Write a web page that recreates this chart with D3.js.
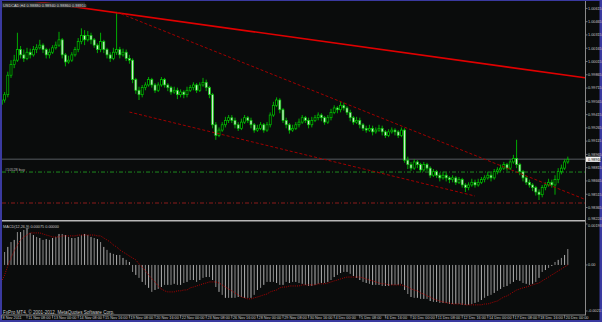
<!DOCTYPE html>
<html><head><meta charset="utf-8">
<script src="https://cdn.jsdelivr.net/npm/d3@7/dist/d3.min.js"></script>
<style>html,body{margin:0;padding:0;background:#0a0c0c;overflow:hidden}</style>
</head><body><svg id="chart" width="602" height="322"></svg>
<script>
const symbol = "USDCAD,H4";
const copyright = "FxPro MT4, \u00A9 2001-2012, MetaQuotes Software Corp.";
const orderLabel = "#10528 buy";
const dateLabels = ["8 Nov 2011","11 Nov 08:00","13 Nov 00:00","14 Nov 08:00","15 Nov 16:00","19 Nov 08:00","20 Nov 16:00","22 Nov 00:00","23 Nov 08:00","26 Nov 16:00","28 Nov 00:00","29 Nov 08:00","30 Nov 16:00","4 Dec 00:00","5 Dec 08:00","6 Dec 16:00","10 Dec 00:00","11 Dec 08:00","12 Dec 16:00","14 Dec 00:00","17 Dec 08:00","18 Dec 16:00","20 Dec 00:00"];
const barsPerLabel = 8;
const priceTicks = [1.00615,1.00465,1.00315,1.00165,1.00015,0.99865,0.99715,0.99565,0.99415,0.99265,0.99115,0.98965,0.98815,0.98665,0.98515,0.98365];
const priceRange = [0.98224, 1.0071];
const macdRange = [-0.00217, 0.00193];

const open = [0.9953,0.9958,0.9964,0.9986,0.9998,1.0003,1.0015,1.0009,1.0005,1.0012,
1.0009,1.0015,1.0017,1.0020,1.0015,1.0009,1.0012,1.0017,1.0020,1.0026,
1.0009,1.0001,1.0003,1.0009,1.0015,1.0024,1.0031,1.0026,1.0031,1.0026,
1.0020,1.0015,1.0024,1.0015,1.0009,1.0005,1.0012,1.0015,1.0009,1.0012,
1.0005,1.0003,0.9981,0.9969,0.9964,0.9972,0.9975,0.9981,0.9975,0.9969,
0.9975,0.9981,0.9975,0.9972,0.9967,0.9969,0.9964,0.9967,0.9964,0.9969,
0.9972,0.9975,0.9969,0.9975,0.9978,0.9972,0.9964,0.9930,0.9918,0.9924,
0.9930,0.9935,0.9938,0.9935,0.9930,0.9926,0.9933,0.9938,0.9935,0.9930,
0.9924,0.9926,0.9930,0.9924,0.9930,0.9941,0.9952,0.9958,0.9947,0.9935,
0.9930,0.9924,0.9926,0.9930,0.9933,0.9938,0.9935,0.9930,0.9935,0.9938,
0.9941,0.9938,0.9933,0.9938,0.9944,0.9949,0.9947,0.9952,0.9949,0.9944,
0.9938,0.9933,0.9935,0.9930,0.9926,0.9924,0.9926,0.9922,0.9924,0.9926,
0.9922,0.9918,0.9922,0.9924,0.9922,0.9918,0.9924,0.9890,0.9885,0.9881,
0.9888,0.9885,0.9879,0.9885,0.9881,0.9873,0.9877,0.9873,0.9870,0.9873,
0.9870,0.9868,0.9870,0.9865,0.9868,0.9862,0.9859,0.9862,0.9865,0.9862,
0.9865,0.9868,0.9870,0.9873,0.9870,0.9877,0.9879,0.9881,0.9885,0.9881,
0.9888,0.9892,0.9885,0.9877,0.9870,0.9865,0.9862,0.9859,0.9854,0.9851,
0.9859,0.9862,0.9865,0.9862,0.9868,0.9877,0.9881,0.9888];
const high = [0.9964,0.9967,0.9990,1.0003,1.0009,1.0034,1.0019,1.0015,1.0017,1.0016,
1.0019,1.0021,1.0026,1.0022,1.0017,1.0016,1.0020,1.0024,1.0035,1.0028,
1.0011,1.0008,1.0012,1.0018,1.0028,1.0039,1.0037,1.0036,1.0034,1.0028,
1.0022,1.0034,1.0026,1.0017,1.0012,1.0017,1.0056,1.0018,1.0016,1.0015,
1.0009,1.0005,0.9983,0.9973,0.9975,0.9978,0.9984,0.9983,0.9977,0.9978,
0.9984,0.9983,0.9977,0.9974,0.9973,0.9972,0.9970,0.9969,0.9973,0.9975,
0.9978,0.9977,0.9978,0.9983,0.9981,0.9974,0.9966,0.9933,0.9927,0.9933,
0.9939,0.9941,0.9941,0.9938,0.9933,0.9937,0.9941,0.9940,0.9938,0.9932,
0.9930,0.9933,0.9932,0.9933,0.9944,0.9956,0.9961,0.9960,0.9949,0.9938,
0.9932,0.9930,0.9933,0.9937,0.9941,0.9940,0.9938,0.9939,0.9941,0.9944,
0.9943,0.9940,0.9941,0.9948,0.9952,0.9951,0.9956,0.9955,0.9951,0.9947,
0.9940,0.9939,0.9938,0.9932,0.9929,0.9930,0.9929,0.9927,0.9930,0.9929,
0.9924,0.9925,0.9927,0.9926,0.9924,0.9927,0.9926,0.9894,0.9888,0.9891,
0.9890,0.9887,0.9888,0.9887,0.9883,0.9880,0.9879,0.9876,0.9877,0.9876,
0.9872,0.9873,0.9872,0.9871,0.9870,0.9864,0.9865,0.9869,0.9868,0.9869,
0.9871,0.9873,0.9877,0.9876,0.9880,0.9882,0.9885,0.9888,0.9887,0.9891,
0.9896,0.9913,0.9887,0.9879,0.9872,0.9868,0.9864,0.9861,0.9857,0.9862,
0.9865,0.9869,0.9868,0.9873,0.9881,0.9885,0.9891,0.9894];
const low = [0.9949,0.9955,0.9961,0.9983,0.9994,1.0001,1.0005,1.0001,1.0003,1.0005,
1.0007,1.0011,1.0015,1.0011,1.0005,1.0005,1.0010,1.0015,1.0018,1.0005,
0.9996,0.9999,1.0001,1.0007,1.0012,1.0021,1.0020,1.0024,1.0021,1.0017,
1.0011,1.0012,1.0011,1.0005,1.0001,1.0003,1.0009,1.0005,1.0007,1.0002,
0.9999,0.9977,0.9965,0.9958,0.9961,0.9969,0.9973,0.9972,0.9966,0.9967,
0.9973,0.9972,0.9968,0.9964,0.9965,0.9959,0.9961,0.9960,0.9961,0.9967,
0.9969,0.9966,0.9967,0.9973,0.9968,0.9960,0.9926,0.9913,0.9916,0.9922,
0.9927,0.9932,0.9932,0.9926,0.9923,0.9924,0.9931,0.9932,0.9926,0.9921,
0.9922,0.9924,0.9921,0.9922,0.9927,0.9939,0.9950,0.9943,0.9932,0.9926,
0.9920,0.9922,0.9924,0.9927,0.9931,0.9932,0.9926,0.9927,0.9933,0.9935,
0.9934,0.9930,0.9931,0.9935,0.9942,0.9943,0.9944,0.9946,0.9941,0.9934,
0.9930,0.9931,0.9926,0.9923,0.9921,0.9922,0.9918,0.9920,0.9922,0.9918,
0.9915,0.9916,0.9920,0.9918,0.9915,0.9916,0.9887,0.9880,0.9878,0.9879,
0.9881,0.9876,0.9877,0.9878,0.9870,0.9871,0.9870,0.9866,0.9868,0.9866,
0.9864,0.9865,0.9862,0.9863,0.9859,0.9854,0.9856,0.9860,0.9859,0.9860,
0.9863,0.9865,0.9868,0.9866,0.9868,0.9874,0.9877,0.9879,0.9878,0.9879,
0.9886,0.9881,0.9873,0.9866,0.9862,0.9859,0.9855,0.9850,0.9845,0.9848,
0.9856,0.9860,0.9859,0.9851,0.9864,0.9874,0.9879,0.9886];
const close = [0.9958,0.9964,0.9986,0.9998,1.0003,1.0015,1.0009,1.0005,1.0012,1.0009,
1.0015,1.0017,1.0020,1.0015,1.0009,1.0012,1.0017,1.0020,1.0026,1.0009,
1.0001,1.0003,1.0009,1.0015,1.0024,1.0031,1.0026,1.0031,1.0026,1.0020,
1.0015,1.0024,1.0015,1.0009,1.0005,1.0012,1.0015,1.0009,1.0012,1.0005,
1.0003,0.9981,0.9969,0.9964,0.9972,0.9975,0.9981,0.9975,0.9969,0.9975,
0.9981,0.9975,0.9972,0.9967,0.9969,0.9964,0.9967,0.9964,0.9969,0.9972,
0.9975,0.9969,0.9975,0.9978,0.9972,0.9964,0.9930,0.9918,0.9924,0.9930,
0.9935,0.9938,0.9935,0.9930,0.9926,0.9933,0.9938,0.9935,0.9930,0.9924,
0.9926,0.9930,0.9924,0.9930,0.9941,0.9952,0.9958,0.9947,0.9935,0.9930,
0.9924,0.9926,0.9930,0.9933,0.9938,0.9935,0.9930,0.9935,0.9938,0.9941,
0.9938,0.9933,0.9938,0.9944,0.9949,0.9947,0.9952,0.9949,0.9944,0.9938,
0.9933,0.9935,0.9930,0.9926,0.9924,0.9926,0.9922,0.9924,0.9926,0.9922,
0.9918,0.9922,0.9924,0.9922,0.9918,0.9924,0.9890,0.9885,0.9881,0.9888,
0.9885,0.9879,0.9885,0.9881,0.9873,0.9877,0.9873,0.9870,0.9873,0.9870,
0.9868,0.9870,0.9865,0.9868,0.9862,0.9859,0.9862,0.9865,0.9862,0.9865,
0.9868,0.9870,0.9873,0.9870,0.9877,0.9879,0.9881,0.9885,0.9881,0.9888,
0.9892,0.9885,0.9877,0.9870,0.9865,0.9862,0.9859,0.9854,0.9851,0.9859,
0.9862,0.9865,0.9862,0.9868,0.9877,0.9881,0.9888,0.9891];
const macd = [0.00028,0.00061,0.00085,0.00108,0.00118,0.00155,0.00155,0.00165,0.00174,0.00151,
0.00141,0.00132,0.00127,0.00118,0.00122,0.00118,0.00127,0.00132,0.00146,0.00146,
0.00141,0.00132,0.00127,0.00127,0.00132,0.00141,0.00146,0.00141,0.00132,0.00127,
0.00122,0.00108,0.00085,0.00071,0.00057,0.00052,0.00047,0.00047,0.00033,0.00024,
0.00014,-0.00033,-0.00047,-0.00061,-0.00080,-0.00094,-0.00108,-0.00127,-0.00118,-0.00113,
-0.00104,-0.00094,-0.00094,-0.00094,-0.00089,-0.00094,-0.00094,-0.00085,-0.00080,-0.00071,
-0.00071,-0.00080,-0.00071,-0.00061,-0.00057,-0.00057,-0.00071,-0.00104,-0.00127,-0.00141,
-0.00155,-0.00155,-0.00155,-0.00155,-0.00151,-0.00151,-0.00155,-0.00155,-0.00155,-0.00141,
-0.00118,-0.00108,-0.00094,-0.00080,-0.00080,-0.00080,-0.00085,-0.00094,-0.00094,-0.00080,
-0.00085,-0.00080,-0.00080,-0.00085,-0.00089,-0.00094,-0.00099,-0.00099,-0.00094,-0.00089,
-0.00085,-0.00085,-0.00080,-0.00071,-0.00057,-0.00047,-0.00038,-0.00033,-0.00033,-0.00042,
-0.00052,-0.00061,-0.00071,-0.00080,-0.00085,-0.00089,-0.00094,-0.00094,-0.00094,-0.00099,
-0.00099,-0.00099,-0.00094,-0.00094,-0.00094,-0.00089,-0.00118,-0.00137,-0.00151,-0.00155,
-0.00155,-0.00160,-0.00160,-0.00160,-0.00170,-0.00174,-0.00174,-0.00179,-0.00179,-0.00179,
-0.00184,-0.00184,-0.00184,-0.00184,-0.00188,-0.00188,-0.00188,-0.00184,-0.00179,-0.00174,
-0.00165,-0.00155,-0.00146,-0.00141,-0.00132,-0.00122,-0.00113,-0.00104,-0.00099,-0.00089,
-0.00080,-0.00071,-0.00075,-0.00085,-0.00089,-0.00094,-0.00089,-0.00080,-0.00061,-0.00033,
-0.00024,-0.00014,-0.00005,0.00014,0.00024,0.00033,0.00047,0.00075];
const signal = [-0.00080,-0.00047,-0.00005,0.00033,0.00066,0.00094,0.00118,0.00132,0.00141,0.00151,
0.00151,0.00151,0.00151,0.00146,0.00141,0.00137,0.00132,0.00132,0.00132,0.00137,
0.00137,0.00137,0.00137,0.00137,0.00141,0.00141,0.00141,0.00141,0.00141,0.00141,
0.00137,0.00137,0.00127,0.00118,0.00108,0.00094,0.00085,0.00071,0.00061,0.00052,
0.00042,0.00033,0.00024,0.00005,-0.00009,-0.00028,-0.00047,-0.00066,-0.00080,-0.00099,
-0.00113,-0.00122,-0.00127,-0.00127,-0.00127,-0.00122,-0.00122,-0.00118,-0.00118,-0.00108,
-0.00104,-0.00099,-0.00094,-0.00089,-0.00085,-0.00080,-0.00080,-0.00080,-0.00085,-0.00094,
-0.00104,-0.00113,-0.00122,-0.00132,-0.00141,-0.00151,-0.00155,-0.00160,-0.00160,-0.00155,
-0.00151,-0.00146,-0.00141,-0.00137,-0.00127,-0.00122,-0.00118,-0.00108,-0.00104,-0.00104,
-0.00099,-0.00099,-0.00099,-0.00099,-0.00094,-0.00094,-0.00094,-0.00094,-0.00094,-0.00089,
-0.00089,-0.00089,-0.00085,-0.00080,-0.00075,-0.00071,-0.00066,-0.00061,-0.00057,-0.00057,
-0.00057,-0.00057,-0.00057,-0.00061,-0.00066,-0.00071,-0.00075,-0.00080,-0.00085,-0.00089,
-0.00089,-0.00094,-0.00094,-0.00094,-0.00094,-0.00094,-0.00099,-0.00104,-0.00113,-0.00118,
-0.00122,-0.00132,-0.00137,-0.00146,-0.00151,-0.00160,-0.00165,-0.00170,-0.00174,-0.00179,
-0.00179,-0.00184,-0.00184,-0.00184,-0.00184,-0.00188,-0.00188,-0.00188,-0.00188,-0.00188,
-0.00188,-0.00184,-0.00184,-0.00179,-0.00174,-0.00170,-0.00160,-0.00151,-0.00146,-0.00137,
-0.00127,-0.00118,-0.00113,-0.00108,-0.00104,-0.00099,-0.00094,-0.00089,-0.00085,-0.00075,
-0.00066,-0.00057,-0.00047,-0.00038,-0.00028,-0.00019,-0.00009,0.00000];
const trendSolid = [[12, 1.00687], [175, 0.99868]];
const channelUpper = [[36, 1.00574], [170, 0.98636]];
const channelLower = [[40, 0.99444], [148, 0.98495]];
const buyLevel = 0.98766;
const stopLevel = 0.98416;

const W = 602, H = 322;
const L = 2, R = 585;
const mainTop = 2, mainBot = 220, subTop = 222, subBot = 315;
const font = "Liberation Sans, Arial, sans-serif";
const txt = "#c8c8c8";
const n = close.length;
const x = d3.scaleLinear().domain([0, n - 1]).range([1.4, 567.8]);
const y = d3.scaleLinear().domain(priceRange).range([220, 0]);
const ym = d3.scaleLinear().domain(macdRange).range([311, 224]);

const svg = d3.select("#chart");
svg.append("rect").attr("width", W).attr("height", H).attr("fill", "#3a3aa0");
svg.append("rect").attr("x", 2).attr("y", 1).attr("width", 597.5).attr("height", 319).attr("fill", "#0a0c0c");
const defs = svg.append("defs");
defs.append("clipPath").attr("id", "cm").append("rect").attr("x", L).attr("y", mainTop).attr("width", R - L).attr("height", mainBot - mainTop);
defs.append("clipPath").attr("id", "cs").append("rect").attr("x", L).attr("y", subTop).attr("width", R - L).attr("height", subBot - subTop);

const gm = svg.append("g").attr("clip-path", "url(#cm)");
const bars = d3.range(n).map(i => ({i, o: open[i], h: high[i], l: low[i], c: close[i]}));

// bid line
gm.append("line").attr("x1", L).attr("x2", R).attr("y1", y(close[n-1])).attr("y2", y(close[n-1]))
  .attr("stroke", "#3c4044").attr("stroke-width", 1.6);
// order lines
gm.append("line").attr("x1", L).attr("x2", R).attr("y1", y(buyLevel)).attr("y2", y(buyLevel))
  .attr("stroke", "#1f8a1f").attr("stroke-width", 1).attr("stroke-dasharray", "4,2,1,2");
gm.append("line").attr("x1", L).attr("x2", R).attr("y1", y(stopLevel)).attr("y2", y(stopLevel))
  .attr("stroke", "#8a1a1a").attr("stroke-width", 1).attr("stroke-dasharray", "4,2,1,2");
gm.append("text").attr("x", 5).attr("y", y(buyLevel) - 1.2).attr("font-family", font).attr("font-size", 3.8)
  .attr("fill", "#b0b0b0").text(orderLabel);

// candles
gm.selectAll("line.wick").data(bars).join("line").attr("class", "wick")
  .attr("x1", d => x(d.i)).attr("x2", d => x(d.i))
  .attr("y1", d => y(d.h)).attr("y2", d => y(d.l))
  .attr("stroke", "#00c000").attr("stroke-width", 0.9);
gm.selectAll("rect.body").data(bars).join("rect").attr("class", "body")
  .attr("x", d => x(d.i) - 1).attr("width", 2)
  .attr("y", d => y(Math.max(d.o, d.c)))
  .attr("height", d => Math.max(0.5, Math.abs(y(d.o) - y(d.c))))
  .attr("fill", d => d.c >= d.o ? "#000" : "#cfe8cf")
  .attr("stroke", "#00c800").attr("stroke-width", 0.7);

// trend lines
function extend(a, b, i) { return a[1] + (b[1] - a[1]) * (i - a[0]) / (b[0] - a[0]); }
const iL = x.invert(L), iR = x.invert(R);
gm.append("line").attr("x1", x(iL)).attr("y1", y(extend(trendSolid[0], trendSolid[1], iL)))
  .attr("x2", x(iR)).attr("y2", y(extend(trendSolid[0], trendSolid[1], iR)))
  .attr("stroke", "#e00000").attr("stroke-width", 1.6);
gm.append("line").attr("x1", x(channelUpper[0][0])).attr("y1", y(channelUpper[0][1]))
  .attr("x2", x(iR)).attr("y2", y(extend(channelUpper[0], channelUpper[1], iR)))
  .attr("stroke", "#a00000").attr("stroke-width", 1).attr("stroke-dasharray", "3,2");
gm.append("line").attr("x1", x(channelLower[0][0])).attr("y1", y(channelLower[0][1]))
  .attr("x2", x(channelLower[1][0])).attr("y2", y(channelLower[1][1]))
  .attr("stroke", "#a00000").attr("stroke-width", 1).attr("stroke-dasharray", "3,2");

// legend
const last = bars[n - 1];
const leg = `${symbol} ${last.o.toFixed(5)} ${last.h.toFixed(5)} ${last.l.toFixed(5)} ${last.c.toFixed(5)}`;
svg.append("rect").attr("x", 2).attr("y", 2.5).attr("width", 83).attr("height", 5).attr("fill", "#2a2c2c");
svg.append("text").attr("x", 3).attr("y", 6.6).attr("font-family", font).attr("font-size", 3.9).attr("fill", "#d8d8d8").text(leg);

// separator
svg.append("line").attr("x1", L).attr("x2", R).attr("y1", 220.8).attr("y2", 220.8).attr("stroke", "#b8b8b8").attr("stroke-width", 1.6);

// MACD
const gs = svg.append("g").attr("clip-path", "url(#cs)");
gs.selectAll("line.h").data(macd).join("line").attr("class", "h")
  .attr("x1", (d, i) => x(i)).attr("x2", (d, i) => x(i))
  .attr("y1", ym(0)).attr("y2", d => ym(d))
  .attr("stroke", (d, i) => i % 2 ? "#8c8c8c" : "#b4b4b4").attr("stroke-width", 1);
gs.append("path").datum(signal)
  .attr("d", d3.line().x((d, i) => x(i)).y(d => ym(d)))
  .attr("fill", "none").attr("stroke", "#c00000").attr("stroke-width", 0.9).attr("stroke-dasharray", "1,1.2");
svg.append("text").attr("x", 3).attr("y", 227.8).attr("font-family", font).attr("font-size", 3.8).attr("fill", "#c8c8c8")
  .text(`MACD(12,26,9) ${macd[n-1].toFixed(5)} ${signal[n-1].toFixed(5)}`);
svg.append("text").attr("x", 3).attr("y", 313.6).attr("font-family", font).attr("font-size", 4.6).attr("fill", "#c8c8c8").text(copyright);

// price axis
svg.append("line").attr("x1", R + 0.5).attr("x2", R + 0.5).attr("y1", 1).attr("y2", subBot).attr("stroke", "#8a8a8a").attr("stroke-width", 1);
const pa = svg.append("g");
pa.selectAll("line").data(priceTicks).join("line").attr("x1", R).attr("x2", R + 2.5).attr("y1", d => y(d)).attr("y2", d => y(d)).attr("stroke", "#8a8a8a").attr("stroke-width", 0.8);
pa.selectAll("text").data(priceTicks).join("text").attr("x", R + 3).attr("y", d => y(d)).attr("dy", "0.35em")
  .attr("font-family", font).attr("font-size", 3.8).attr("fill", txt).text(d => d.toFixed(5));
svg.append("text").attr("x", R + 3).attr("y", 219).attr("dy", "0.35em").attr("font-family", font).attr("font-size", 3.8).attr("fill", txt).text(priceRange[0].toFixed(5));
// current price box
svg.append("rect").attr("x", R + 1).attr("y", y(close[n-1]) - 2.6).attr("width", 14.5).attr("height", 5.2).attr("fill", "#f4f4f4");
svg.append("text").attr("x", R + 3).attr("y", y(close[n-1])).attr("dy", "0.35em").attr("font-family", font).attr("font-size", 3.8).attr("fill", "#000").text(close[n-1].toFixed(5));
// macd axis
const macdTicks = [macdRange[1], 0, macdRange[0]];
const ma = svg.append("g");
ma.selectAll("line").data(macdTicks).join("line").attr("x1", R).attr("x2", R + 2.5).attr("y1", d => ym(d)).attr("y2", d => ym(d)).attr("stroke", "#8a8a8a").attr("stroke-width", 0.8);
ma.selectAll("text").data(macdTicks).join("text").attr("x", R + 3).attr("y", d => ym(d) + (d === macdRange[1] ? 1.2 : 0)).attr("dy", "0.35em")
  .attr("font-family", font).attr("font-size", 3.8).attr("fill", txt).text(d => d === 0 ? "0.00" : d.toFixed(5));

// time axis
svg.append("line").attr("x1", L).attr("x2", R + 1).attr("y1", subBot).attr("y2", subBot).attr("stroke", "#8a8a8a").attr("stroke-width", 1);
const ta = svg.append("g");
ta.selectAll("line").data(dateLabels).join("line")
  .attr("x1", (d, k) => x(k * barsPerLabel)).attr("x2", (d, k) => x(k * barsPerLabel))
  .attr("y1", subBot).attr("y2", subBot + 3.5).attr("stroke", "#8a8a8a").attr("stroke-width", 0.8);
ta.selectAll("text").data(dateLabels).join("text")
  .attr("x", (d, k) => x(k * barsPerLabel) + 1.2).attr("y", 319.3)
  .attr("font-family", font).attr("font-size", 3.8).attr("fill", txt).text(d => d);
</script></body></html>
